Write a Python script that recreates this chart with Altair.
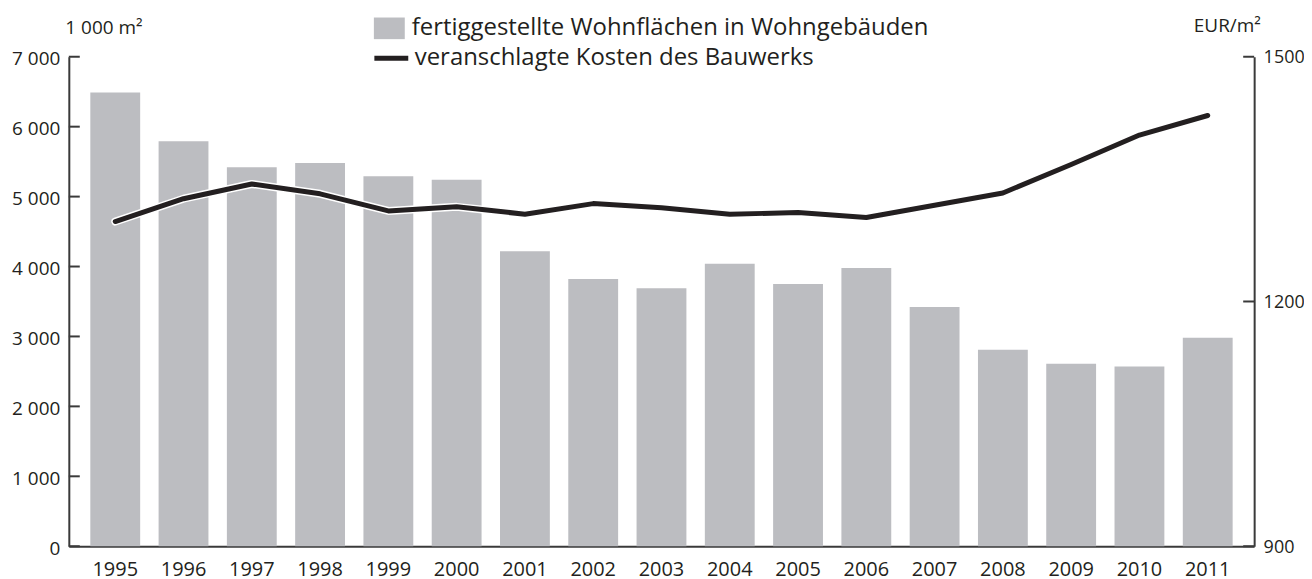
import altair as alt
import pandas as pd

years = [str(y) for y in range(1995, 2012)]
flaeche = [6490, 5790, 5420, 5480, 5290, 5240, 4220, 3820, 3690, 4040, 3750, 3980, 3420, 2810, 2610, 2570, 2980]
kosten = [1298, 1326, 1344, 1332, 1311, 1316, 1307, 1320, 1315, 1307, 1309, 1303, 1318, 1333, 1368, 1404, 1428]
left_ticks = [0, 1000, 2000, 3000, 4000, 5000, 6000, 7000]
right_ticks = [900, 1200, 1500]
bar_name = "fertiggestellte Wohnflächen in Wohngebäuden"
line_name = "veranschlagte Kosten des Bauwerks"

FONT = "Open Sans"
TXT = "#231f20"
AX = "#3a3a3a"
W, H = 1189, 491

df = pd.DataFrame({"Jahr": years, "Flaeche": flaeche, "Kosten": kosten,
                   "s1": bar_name, "s2": line_name})
lt = pd.DataFrame({"Flaeche": left_ticks})
rt = pd.DataFrame({"Kosten": right_ticks})

xenc = alt.X("Jahr:O", scale=alt.Scale(paddingInner=0.27, paddingOuter=0.315),
             axis=alt.Axis(title=None, labelAngle=0, ticks=False, domain=True,
                           domainColor=AX, domainWidth=2, labelFontSize=20,
                           labelPadding=13, labelFont=FONT, labelColor=TXT))

yl_scale = alt.Scale(domain=[0, 7000], nice=False, zero=True)
yr_scale = alt.Scale(domain=[900, 1500], nice=False, zero=False)

left_axis = alt.Axis(values=left_ticks, title="1 000 m²", titleAngle=0,
                     titleX=-4, titleY=-29, titleAlign="left", titleBaseline="middle",
                     titleFontSize=19, titleFontWeight="normal", titleFont=FONT,
                     titleColor=TXT, ticks=False, grid=False, domainColor=AX,
                     domainWidth=2, labelPadding=9, labelFontSize=19, labelFont=FONT,
                     labelColor=TXT, labelOffset=2,
                     labelExpr="replace(format(datum.value, ','), ',', ' ')")
right_axis = alt.Axis(orient="right", values=right_ticks, format="d", title="EUR/m²",
                      titleAngle=0, titleX=-61, titleY=-31, titleAlign="left",
                      titleBaseline="middle", titleFontSize=19, titleFontWeight="normal",
                      titleFont=FONT, titleColor=TXT, ticks=False, grid=False,
                      domainColor=AX, domainWidth=2, labelPadding=9, labelFontSize=18,
                      labelFont=FONT, labelColor=TXT, labelOffset=1)

bars = alt.Chart(df).mark_bar(color="#bcbdc1").encode(
    x=xenc,
    y=alt.Y("Flaeche:Q", scale=yl_scale, axis=left_axis),
    color=alt.Color("s1:N", scale=alt.Scale(range=["#bcbdc1"]),
                    legend=alt.Legend(title=None, orient="none", legendX=306, legendY=-44,
                                      symbolType="M-1,-0.7H1V0.7H-1Z", symbolSize=961,
                                      symbolStrokeWidth=0, symbolOpacity=1,
                                      labelFontSize=24, labelFont=FONT, labelColor=TXT,
                                      labelOffset=7, labelLimit=1000, padding=0)),
)

lticks = alt.Chart(lt).mark_rule(color=AX, strokeWidth=2).encode(
    y=alt.Y("Flaeche:Q", scale=yl_scale, axis=left_axis),
    x=alt.value(0), x2=alt.value(11))

left = alt.layer(bars, lticks)

white = alt.Chart(df).mark_line(color="white", strokeWidth=8, strokeCap="round",
                                strokeJoin="round").encode(
    x=xenc, y=alt.Y("Kosten:Q", scale=yr_scale, axis=right_axis))

black = alt.Chart(df).mark_line(strokeWidth=5, strokeCap="round", strokeJoin="round").encode(
    x=xenc,
    y=alt.Y("Kosten:Q", scale=yr_scale, axis=right_axis),
    stroke=alt.Stroke("s2:N", scale=alt.Scale(range=["#231f20"]),
                      legend=alt.Legend(title=None, orient="none", legendX=304, legendY=-18,
                                        symbolType="stroke", symbolSize=1156,
                                        symbolStrokeWidth=5,
                                        labelFontSize=24, labelFont=FONT, labelColor=TXT,
                                        labelOffset=4, labelLimit=1000, padding=0)),
)

rticks = alt.Chart(rt).mark_rule(color=AX, strokeWidth=2).encode(
    y=alt.Y("Kosten:Q", scale=yr_scale, axis=right_axis),
    x=alt.value(W), x2=alt.value(W - 11))

right = alt.layer(white, black, rticks)

chart = alt.layer(left, right).resolve_scale(y="independent", color="independent").properties(
    width=W, height=H, autosize="none",
    padding={"left": 61, "top": 48, "right": 50, "bottom": 40},
).configure(background="white").configure_view(stroke=None)

chart.save("out.html", embed_options={"renderer": "svg", "actions": False})
